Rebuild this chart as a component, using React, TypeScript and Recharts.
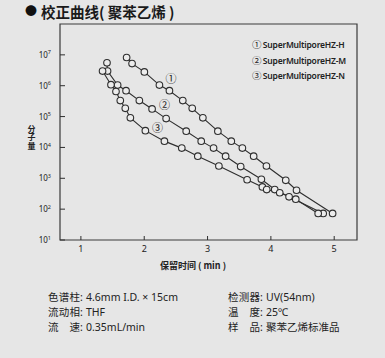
import React from 'react';
import { ComposedChart, Line, XAxis, YAxis, ReferenceArea } from 'recharts';

// Series ① SuperMultiporeHZ-H
const hTime = [1.722, 1.808, 2.002, 2.24, 2.398, 2.609, 2.758, 2.926, 3.163, 3.375, 3.55, 3.728, 3.93, 4.235, 4.405, 4.975];
const hMw = [8.2e6, 5.2e6, 2.8e6, 1.05e6, 6.9e5, 3.3e5, 1.85e5, 9.1e4, 3.36e4, 1.6e4, 9.5e3, 5.2e3, 2.5e3, 861, 410, 72.6];
// Series ② SuperMultiporeHZ-M
const mTime = [1.412, 1.421, 1.58, 1.713, 1.923, 2.124, 2.346, 2.663, 2.9, 3.095, 3.285, 3.523, 3.85, 4.061, 4.287, 4.826];
const mMw = [5.5e6, 2.98e6, 1.05e6, 6.9e5, 3.3e5, 1.77e5, 8.6e4, 3.36e4, 1.6e4, 9.5e3, 5.2e3, 2.4e3, 930, 432, 250, 72.6];
// Series ③ SuperMultiporeHZ-N
const nTime = [1.342, 1.475, 1.554, 1.622, 1.701, 1.781, 2.018, 2.319, 2.593, 2.846, 3.179, 3.625, 3.866, 3.934, 4.14, 4.393, 4.747];
const nMw = [2.98e6, 1.08e6, 6.5e5, 3.3e5, 1.85e5, 9.1e4, 3.5e4, 1.6e4, 9.5e3, 5.2e3, 2.5e3, 895, 524, 432, 340, 210, 72.6];

const xTicks = [1, 2, 3, 4, 5];
const yTicks = [10, 100, 1e3, 1e4, 1e5, 1e6, 1e7];
const xDomain = [0.67, 5.36];
const yDomain = [10, 1e8];

const legendNames = ['SuperMultiporeHZ-H', 'SuperMultiporeHZ-M', 'SuperMultiporeHZ-N'];
const circled = ['①', '②', '③'];

const titleMain = '校正曲线';
const titleSub = '( 聚苯乙烯 )';
const yLabel = ['分', '子', '量'];
const xLabel = '保留时间 ( min )';
const notesLeft = [
  ['色谱柱', '4.6mm I.D. × 15cm'],
  ['流动相', 'THF'],
  ['流　速', '0.35mL/min'],
];
const notesRight = [
  ['检测器', 'UV(54nm)'],
  ['温　度', '25℃'],
  ['样　品', '聚苯乙烯标准品'],
];

const toRows = (t: number[], v: number[]) => t.map((x, i) => ({ t: x, mw: v[i] }));
const hData = toRows(hTime, hMw);
const mData = toRows(mTime, mMw);
const nData = toRows(nTime, nMw);

const INK = '#2e2e2e';
const BG = '#e6e6e6';
const FONT = "'Noto Sans', 'Noto Sans CJK SC', sans-serif";
const CJK = "'Noto Sans CJK SC', sans-serif";

const YTick = (props: any) => {
  const { x, y, payload } = props;
  const exp = Math.round(Math.log10(payload.value));
  return (
    <g>
      <line x1={x} x2={x + 5} y1={y} y2={y} stroke={INK} strokeWidth={1} />
      <text x={x - 9} y={y + 3} textAnchor="end" fontSize={8} fill="#222" fontFamily={FONT}>
        10<tspan dy={-3.5} fontSize={5.5}>{exp}</tspan>
      </text>
    </g>
  );
};

const XTick = (props: any) => {
  const { x, y, payload } = props;
  return (
    <g>
      <line x1={x} x2={x} y1={y} y2={y - 4} stroke={INK} strokeWidth={1} />
      <text x={x} y={y + 12} textAnchor="middle" fontSize={9} fill="#222" fontFamily={FONT}>
        {payload.value}
      </text>
    </g>
  );
};

const dotStyle = { r: 3.3, fill: '#ececec', stroke: INK, strokeWidth: 1.1 };

const Abs = ({ left, cy, size, children, style }: any) => (
  <div
    style={{
      position: 'absolute',
      left,
      top: cy - size * 0.6,
      height: size * 1.2,
      lineHeight: `${size * 1.2}px`,
      fontSize: size,
      whiteSpace: 'nowrap',
      color: '#222',
      fontFamily: FONT,
      ...style,
    }}
  >
    {children}
  </div>
);

const NoteRow = ({ left, cy, label, value }: any) => (
  <Abs left={left} cy={cy} size={10.5}>
    <span style={{ display: 'inline-block', width: 32, textAlignLast: 'justify', fontFamily: CJK }}>{label}</span>
    <span style={{ display: 'inline-block', width: 6 }}>:</span>
    <span>{value}</span>
  </Abs>
);

export default function App() {
  return (
    <div style={{ position: 'absolute', left: 0, top: 0, width: 385, height: 358, background: BG, overflow: 'hidden' }}>
      <ComposedChart width={385} height={358} margin={{ top: 24, right: 28, left: 0, bottom: 0 }}>
        <XAxis
          type="number"
          dataKey="t"
          domain={xDomain}
          ticks={xTicks}
          allowDataOverflow
          interval={0}
          height={118}
          axisLine={false}
          tickLine={false}
          tickSize={0}
          tickMargin={0}
          tick={<XTick />}
        />
        <YAxis
          type="number"
          scale="log"
          domain={yDomain}
          ticks={yTicks}
          allowDataOverflow
          interval={0}
          width={60}
          axisLine={false}
          tickLine={false}
          tickSize={0}
          tickMargin={0}
          tick={<YTick />}
        />
        <ReferenceArea
          x1={xDomain[0]}
          x2={xDomain[1]}
          y1={yDomain[0]}
          y2={yDomain[1]}
          fill="none"
          stroke="#3a3a3a"
          strokeWidth={1.2}
          ifOverflow="visible"
        />
        <Line data={hData} dataKey="mw" type="linear" stroke={INK} strokeWidth={1.1} dot={dotStyle} isAnimationActive={false} />
        <Line data={mData} dataKey="mw" type="linear" stroke={INK} strokeWidth={1.1} dot={dotStyle} isAnimationActive={false} />
        <Line data={nData} dataKey="mw" type="linear" stroke={INK} strokeWidth={1.1} dot={dotStyle} isAnimationActive={false} />
      </ComposedChart>

      {/* Title */}
      <Abs left={25} cy={12} size={12} style={{ color: '#111' }}>●</Abs>
      <Abs left={41} cy={12} size={14.5} style={{ fontFamily: CJK, fontWeight: 700, color: '#1a1a1a' }}>
        {titleMain}
        <span style={{ whiteSpace: 'pre' }}>{titleSub}</span>
      </Abs>

      {/* Legend */}
      {legendNames.map((n, i) => (
        <Abs key={n} left={252} cy={44.5 + i * 15.3} size={8.5} style={{ fontWeight: 600, letterSpacing: -0.2 }}>
          <span style={{ fontFamily: CJK, fontWeight: 400, fontSize: 9.5, marginRight: 1.5 }}>{circled[i]}</span>
          {n}
        </Abs>
      ))}

      {/* Curve labels */}
      <Abs left={165.5} cy={79} size={11} style={{ fontFamily: CJK }}>{circled[0]}</Abs>
      <Abs left={159} cy={105} size={11} style={{ fontFamily: CJK }}>{circled[1]}</Abs>
      <Abs left={152} cy={128} size={11} style={{ fontFamily: CJK }}>{circled[2]}</Abs>

      {/* Y label (vertical stack) */}
      <div
        style={{
          position: 'absolute',
          left: 27,
          top: 125,
          width: 9,
          fontSize: 8,
          lineHeight: '8.4px',
          fontWeight: 700,
          fontFamily: CJK,
          color: '#222',
          textAlign: 'center',
        }}
      >
        {yLabel.join('')}
      </div>

      {/* X label */}
      <div
        style={{
          position: 'absolute',
          left: 93,
          width: 200,
          top: 260,
          height: 12,
          lineHeight: '12px',
          textAlign: 'center',
          fontSize: 9,
          fontWeight: 600,
          fontFamily: CJK,
          color: '#222',
          whiteSpace: 'pre',
        }}
      >
        {xLabel}
      </div>

      {/* Notes */}
      {notesLeft.map((r, i) => (
        <NoteRow key={r[0]} left={48} cy={297 + i * 15.3} label={r[0]} value={r[1]} />
      ))}
      {notesRight.map((r, i) => (
        <NoteRow key={r[0]} left={228} cy={297 + i * 15.3} label={r[0]} value={r[1]} />
      ))}
    </div>
  );
}
